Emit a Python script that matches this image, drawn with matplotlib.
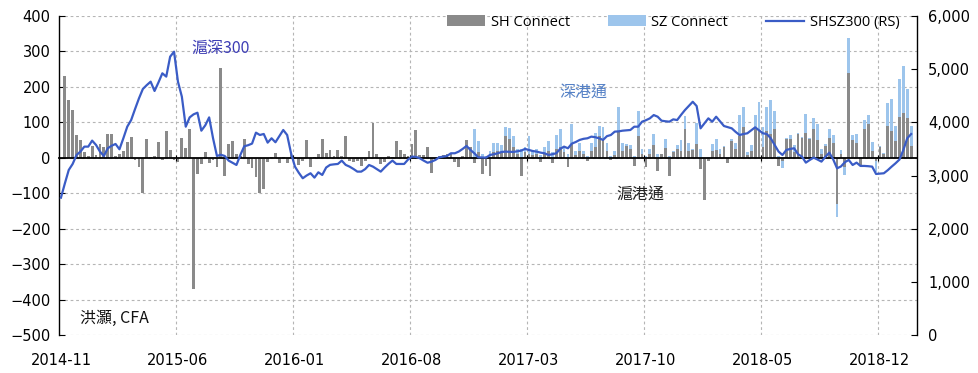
import numpy as np
import matplotlib
matplotlib.use('Agg')
import matplotlib.pyplot as plt
from matplotlib.patches import Patch
from matplotlib.lines import Line2D
from matplotlib.ticker import FuncFormatter, MultipleLocator

plt.rcParams['font.family'] = ['DejaVu Sans']

# ---------------- data (weekly, category axis) ----------------
tick_labels = ['2014-11', '2015-06', '2016-01', '2016-08',
               '2017-03', '2017-10', '2018-05', '2018-12']
label_every = 30

sh_connect = [
    0,
    230, 164, 136, 64, 50, 15, 5, 33, 8, 38,
    30, 66, 66, 5, 12, 20, 44, 58, -6, -27,
    -100, 53, 3, 6, 44, -6, 75, 22, -5, -12,
    56, 28, 80, -370, -47, -18, 17, -16, -5, -27,
    253, -50, 38, 47, 10, 5, 53, -18, -29, -55,
    -100, -87, -13, 3, 14, -16, 1, -16, 10, 3,
    -20, -8, 50, -27, 2, 10, 53, 13, 22, 5,
    22, 5, 61, -8, -13, -8, -22, -8, 19, 98,
    10, -18, -13, 5, 3, 47, 21, 12, 6, 40,
    77, 7, 7, 31, -43, -3, 5, 8, 10, 14,
    -11, -27, 5, 50, 29, -16, 15, -47, -22, -52,
    15, 19, 15, 61, 52, 29, 10, -50, 15, 10,
    8, 10, -13, 12, 20, -16, 25, 29, 15, -27,
    38, 8, 18, 10, -8, 20, 30, 61, 52, 20,
    -6, 8, 75, 20, 33, 25, -22, 61, 10, -25,
    10, 35, -38, 10, 27, -52, 15, 24, 19, 81,
    20, 21, 40, -32, -120, -8, 19, 21, 12, 31,
    -16, 47, 25, 61, 86, 8, 19, 80, 75, 29,
    75, 66, 82, -22, -10, 53, 53, 15, 66, 55,
    71, 53, 81, 49, 10, 33, 55, 43, -129, 10,
    -27, 239, 49, 43, -19, 82, 94, 19, -10, 29,
    10, 91, 75, 47, 114, 126, 112, 33,
    0,
]

sz_connect = [0] * 106 + [
    81, 32, 10, 5,
    19, 28, 24, 21, 27, 31, 32, 14, 24, 14,
    51, 10, 14, 8, 17, 27, 15, 39, 52, 18,
    10, 56, 11, 25, 10, 5, 23, 40, 30, 34,
    23, 5, 11, 68, 23, 7, 11, 5, 71, 16,
    5, 16, 31, 10, 2, 27, 5, 5, 12, 31,
    38, 23, 3, 58, 24, 0, 3, 21, 31, 14,
    3, 3, 5, 16, 60, 58, 7, 17, 41, 83,
    57, 69, 97, 49, 5, -19, 3, 11, 21, 3,
    3, 53, 3, 32, 47, 14, 5, 25, 21, -39,
    11, -21, 100, 14, 25, 3, 24, 27, 26, -31,
    3, 3, 63, 91, 44, 109, 132, 81, 58,
    0,
]

shsz300 = [
    2583, 2850, 3104, 3217, 3386, 3450, 3543, 3543, 3656, 3574,
    3450, 3367, 3512, 3560, 3593, 3493, 3700, 3918, 4043, 4250,
    4450, 4627, 4700, 4765, 4590, 4750, 4922, 4860, 5235, 5329,
    4765, 4483, 3918, 4093, 4150, 4181, 3843, 3943, 4093, 3700,
    3367, 3390, 3367, 3280, 3240, 3198, 3386, 3550, 3570, 3600,
    3806, 3762, 3781, 3618, 3700, 3625, 3740, 3856, 3762, 3418,
    3167, 3050, 2948, 3000, 3042, 2960, 3060, 3010, 3150, 3200,
    3210, 3217, 3280, 3200, 3167, 3123, 3073, 3073, 3120, 3198,
    3167, 3120, 3073, 3150, 3220, 3280, 3217, 3217, 3217, 3300,
    3355, 3350, 3324, 3280, 3240, 3260, 3292, 3342, 3355, 3367,
    3418, 3418, 3450, 3500, 3556, 3480, 3418, 3342, 3340, 3336,
    3386, 3400, 3418, 3443, 3449, 3445, 3443, 3455, 3468, 3500,
    3480, 3460, 3449, 3430, 3418, 3386, 3400, 3418, 3500, 3543,
    3512, 3600, 3630, 3669, 3690, 3700, 3731, 3720, 3700, 3669,
    3740, 3762, 3825, 3830, 3843, 3850, 3856, 3918, 3918, 4012,
    4040, 4075, 4137, 4106, 4031, 4020, 4012, 4056, 4043, 4140,
    4231, 4310, 4387, 4306, 3887, 3980, 4075, 4012, 4106, 4020,
    3931, 3910, 3887, 3820, 3762, 3780, 3794, 3850, 3906, 3850,
    3794, 3780, 3700, 3574, 3450, 3386, 3480, 3500, 3512, 3400,
    3355, 3242, 3292, 3336, 3300, 3261, 3350, 3430, 3305, 3135,
    3170, 3250, 3292, 3198, 3242, 3180, 3180, 3175, 3167, 3029,
    3035, 3042, 3100, 3167, 3230, 3300, 3480, 3700, 3780,
]

# ---------------- figure ----------------
fig = plt.figure(figsize=(9.79, 3.73), dpi=100)
ax = fig.add_axes([59 / 979, 1 - 335 / 373, (917 - 59) / 979, (335 - 16) / 373])

sh = np.array(sh_connect, dtype=float)
sz = np.array(sz_connect, dtype=float)
n = len(sh)
x = np.arange(n)

gray = '#8a8a8a'
lblue = '#9dc5ec'
lineblue = '#3a5cc6'

sz_bottom = np.where(np.sign(sz) == np.sign(sh), sh, 0.0)
ax.bar(x, sh, width=0.7, color=gray, zorder=2, linewidth=0)
ax.bar(x, sz, width=0.7, bottom=sz_bottom, color=lblue, zorder=2, linewidth=0)

ax.set_xlim(-0.5, n - 0.5)
ax.set_ylim(-500, 400)
ax.yaxis.set_major_locator(MultipleLocator(100))

grid_kw = dict(color='#b5b5b5', linestyle=(0, (2.5, 2.5)), linewidth=0.8)
ax.grid(axis='y', zorder=0, **grid_kw)
# vertical grid at category boundaries every 30 weeks
ax.set_xticks(np.arange(label_every, n, label_every) - 0.5)
ax.grid(axis='x', zorder=0, **grid_kw)
ax.set_axisbelow(True)

for s in ['top', 'right']:
    ax.spines[s].set_visible(False)
ax.spines['bottom'].set_position(('data', 0))
ax.spines['bottom'].set_zorder(3)
ax.spines['bottom'].set_linewidth(1.3)
ax.spines['left'].set_linewidth(1.0)
ax.tick_params(axis='x', direction='inout', length=5, labelbottom=False, width=0.8)
ax.tick_params(axis='y', direction='in', length=4, labelsize=10.5, pad=6)

sec = ax.secondary_xaxis('bottom')
sec.set_xticks(np.arange(0, n, label_every)[:len(tick_labels)], labels=tick_labels)
sec.tick_params(length=0, pad=13, labelsize=10.5)
sec.spines['bottom'].set_visible(False)

# right axis
ax2 = ax.twinx()
ax2.plot(np.arange(len(shsz300)), shsz300, color=lineblue, linewidth=1.6, zorder=4)
ax2.set_ylim(0, 6000)
ax2.yaxis.set_major_locator(MultipleLocator(1000))
ax2.yaxis.set_major_formatter(FuncFormatter(lambda v, p: f'{int(v):,}'))
ax2.tick_params(axis='y', direction='in', length=4, labelsize=10.5, pad=8)
for s in ['top', 'left', 'bottom']:
    ax2.spines[s].set_visible(False)
ax2.spines['right'].set_linewidth(1.0)

# legend
handles = [Patch(facecolor=gray, edgecolor='none', label='SH Connect'),
           Patch(facecolor=lblue, edgecolor='none', label='SZ Connect'),
           Line2D([0], [0], color=lineblue, linewidth=1.6, label='SHSZ300 (RS)')]
ax2.legend(handles=handles, loc='upper right', bbox_to_anchor=(0.995, 1.045), ncol=3,
           frameon=False, handlelength=2.6, handleheight=0.75,
           columnspacing=2.6, handletextpad=0.4,
           prop={'family': ['Open Sans', 'DejaVu Sans'], 'size': 10.5})

cjk = ['Noto Sans CJK TC', 'DejaVu Sans']
ax.text(41, 310, '滬深300', color='#3d3db5', fontsize=11.5, family=cjk, ha='center', va='center', zorder=5)
ax.text(134, 185, '深港通', color='#5581c6', fontsize=11.5, family=cjk, ha='center', va='center', zorder=5)
ax.text(148.5, -102, '滬港通', color='#222222', fontsize=11.5, family=cjk, ha='center', va='center', zorder=5)
ax.text(5, -452, '洪灝, CFA', color='#111111', fontsize=11.5, family=cjk, ha='left', va='center', zorder=5)

fig.savefig('out.png', dpi=100)
